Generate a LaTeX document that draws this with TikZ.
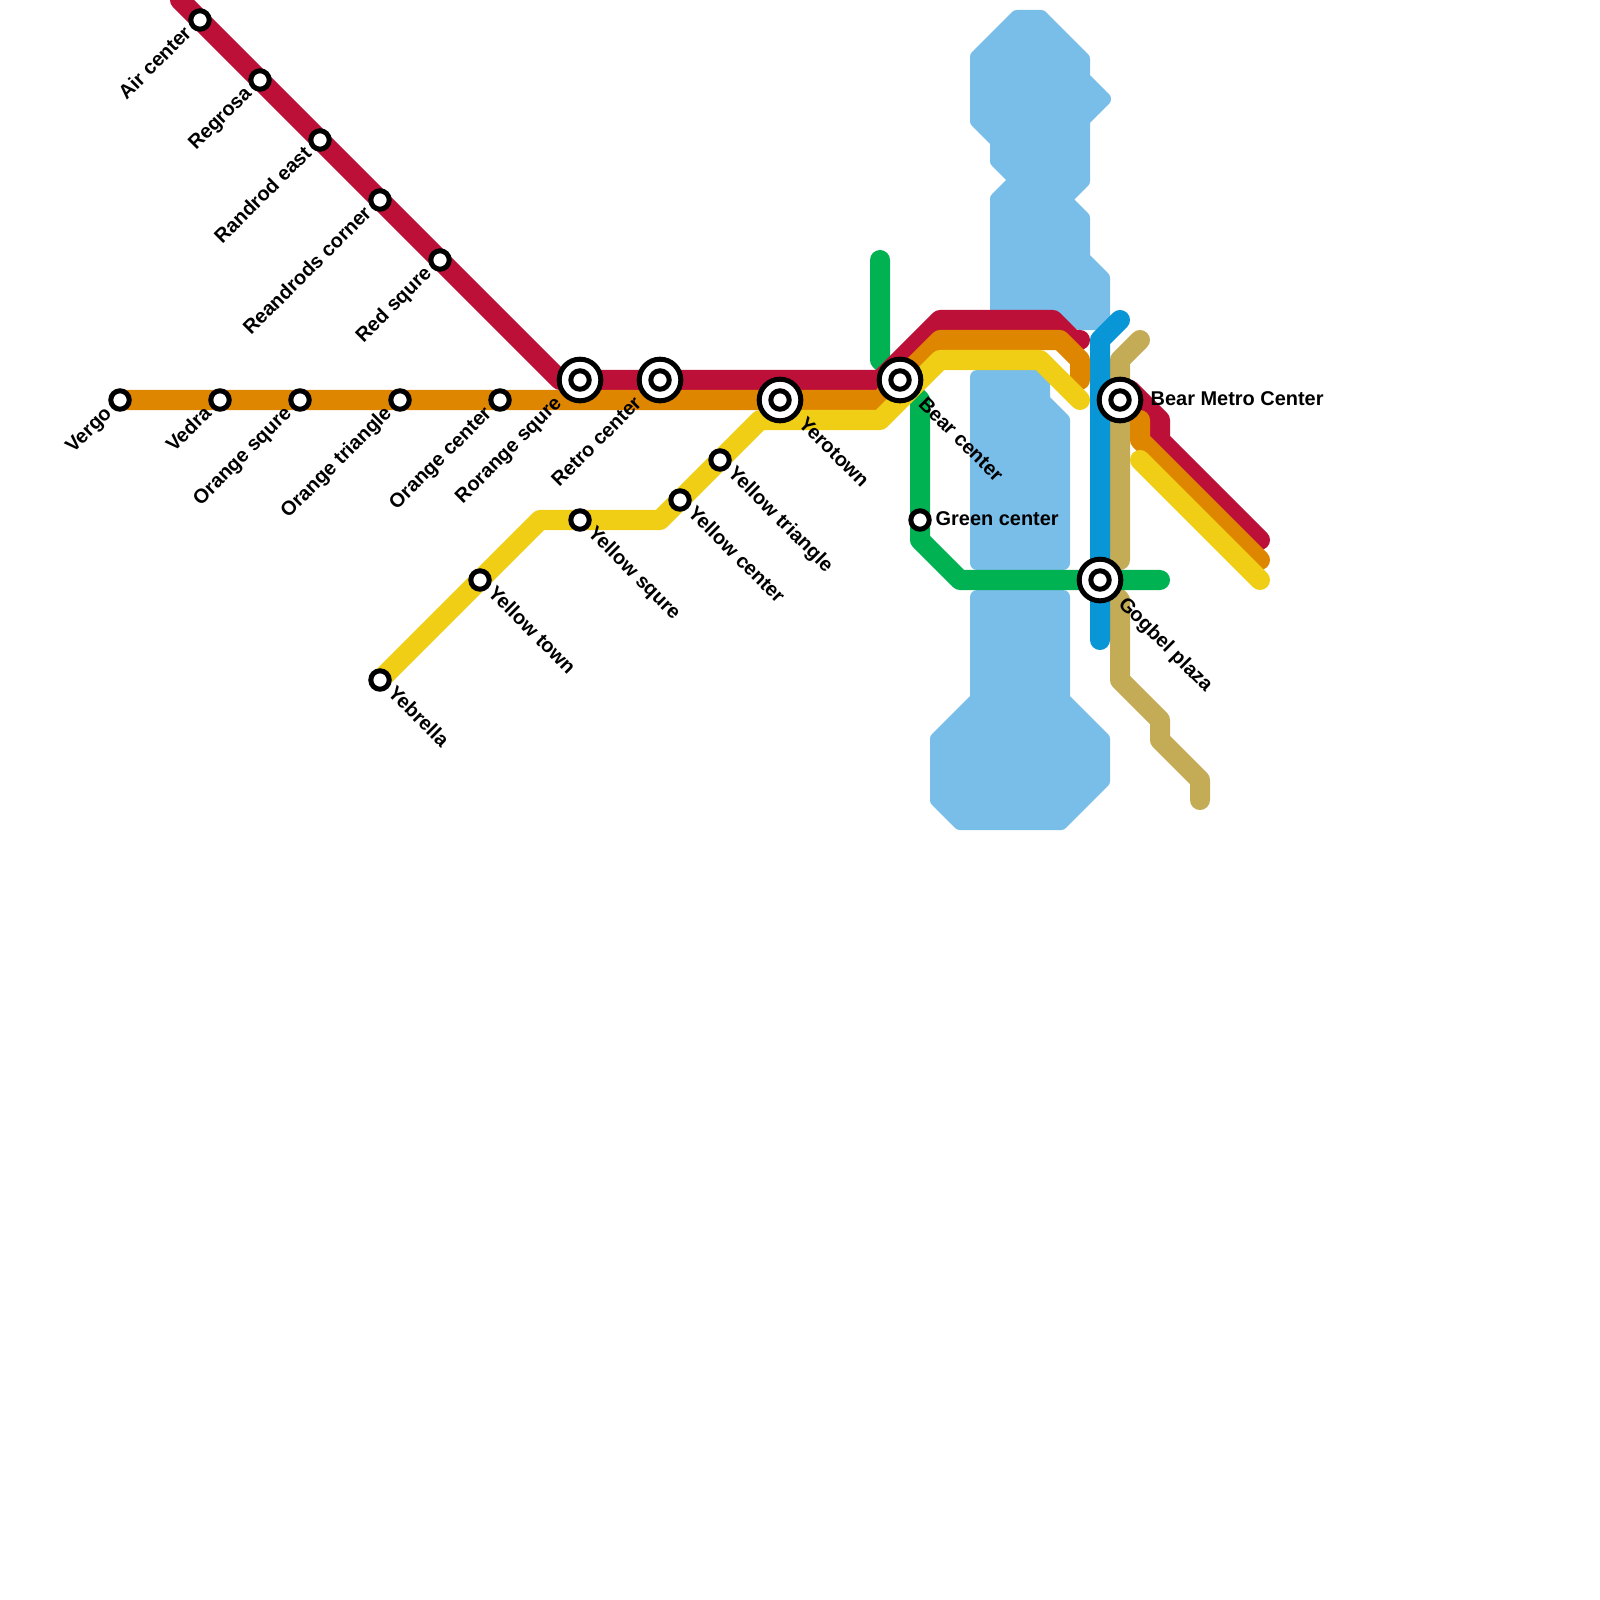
\documentclass[tikz,border=0pt]{standalone}
\usepackage{fontspec}
\setmainfont{Liberation Sans}
\usetikzlibrary{backgrounds}

\begin{document}
\begin{tikzpicture}[
    x={(0.01cm,0cm)}, y={(0cm,-0.01cm)},
    every node/.style={font=\bfseries\fontsize{5.67pt}{6.8pt}\selectfont, inner sep=0pt},
    metroline/.style={line width=0.2cm, line cap=round, line join=round},
    waterbody/.style={fill=water, draw=water, line width=0.14cm, line join=round},
    stop/.style={circle, draw=black, fill=white, line width=0.05cm, minimum size=0.184cm},
    hub/.style={circle, draw=black, fill=white, line width=0.05cm, minimum size=0.416cm},
    lblsw/.style={xshift=-0.07cm, yshift=-0.14cm, rotate=45, anchor=base east},
    lblse/.style={xshift=0.063cm, yshift=-0.137cm, rotate=-45, anchor=base west},
    hubsw/.style={xshift=-0.17cm, yshift=-0.24cm, rotate=45, anchor=base east},
    hubse/.style={xshift=0.17cm, yshift=-0.245cm, rotate=-45, anchor=base west},
  ]
    \definecolor{lineRed}{HTML}{bd1038}
    \definecolor{lineOrange}{HTML}{df8600}
    \definecolor{lineYellow}{HTML}{f0ce15}
    \definecolor{lineGreen}{HTML}{00b251}
    \definecolor{lineBlue}{HTML}{0896d7}
    \definecolor{lineTan}{HTML}{c4ab56}
    \definecolor{water}{HTML}{79bde9}

    \useasboundingbox (0,0) rectangle (1600,1600);

    % -------- plain stops --------
    \foreach \name/\xx/\yy in {air/200/20, regrosa/260/80, randrod/320/140, reandrods/380/200, redsq/440/260,
        vergo/120/400, vedra/220/400, orangesq/300/400, orangetri/400/400, orangecen/500/400,
        yebrella/380/680, yellowtown/480/580, yellowsq/580/520, yellowcen/680/500, yellowtri/720/460,
        greencen/920/520} {
      \node[stop] (\name) at (\xx,\yy) {};
    }

    % -------- interchanges --------
    \foreach \name/\xx/\yy in {rorange/580/380, retro/660/380, yerotown/780/400, bearcen/900/380,
        bearmetro/1120/400, gogbel/1100/580} {
      \node[hub] (\name) at (\xx,\yy) {};
      \node[stop] (\name-in) at (\name.center) {};
    }

    % -------- labels --------
    \foreach \name/\txt in {air/Air center, regrosa/Regrosa, randrod/Randrod east, reandrods/Reandrods corner,
        redsq/Red squre, vergo/Vergo, vedra/Vedra, orangesq/Orange squre, orangetri/Orange triangle,
        orangecen/Orange center} {
      \node[lblsw] (\name-txt) at (\name.center) {\txt};
    }
    \foreach \name/\txt in {rorange/Rorange squre, retro/Retro center} {
      \node[hubsw] (\name-txt) at (\name.center) {\txt};
    }
    \foreach \name/\txt in {yebrella/Yebrella, yellowtown/Yellow town, yellowsq/Yellow squre,
        yellowcen/Yellow center, yellowtri/Yellow triangle} {
      \node[lblse] (\name-txt) at (\name.center) {\txt};
    }
    \foreach \name/\txt in {yerotown/Yerotown, bearcen/Bear center, gogbel/Gogbel plaza} {
      \node[hubse] (\name-txt) at (\name.center) {\txt};
    }
    \node[anchor=base west, xshift=0.15cm, yshift=-0.05cm] (greencen-txt) at (greencen.center) {Green center};
    \node[anchor=base west, xshift=0.30cm, yshift=-0.05cm] (bearmetro-txt) at (bearmetro.center) {Bear Metro Center};

    \begin{pgfonlayer}{background}
      % -------- water --------
      \path[waterbody] (1017,17) -- (1041,17) -- (1083,59) -- (1083,78) -- (1104,99) -- (1083,120) -- (1083,181)
        -- (1064.5,199.5) -- (1083,218) -- (1083,258) -- (1103,278) -- (1103,323) -- (1080,323) -- (1074,317)
        -- (997,317) -- (997,199) -- (1016,180) -- (997,161) -- (997,141) -- (977,121) -- (977,57) -- cycle;
      \path[waterbody] (977,377) -- (1043,377) -- (1043,400) -- (1063,420) -- (1063,563) -- (977,563) -- cycle;
      \path[waterbody] (977,597) -- (1063,597) -- (1063,699) -- (1103,739) -- (1103,781) -- (1061,823) -- (960,823)
        -- (937,800) -- (937,739) -- (977,699) -- cycle;

      % -------- lines --------
      \draw[metroline, lineTan] (1140,340) -- (1120,360) -- (1120,560);
      \draw[metroline, lineTan] (gogbel.center) -- (1120,600) -- (1120,680) -- (1160,720) -- (1160,740) -- (1200,780) -- (1200,800);
      \draw[metroline, lineBlue] (1120,320) -- (1100,340) -- (gogbel.center) -- (1100,640);
      \draw[metroline, lineGreen] (880,260) -- (880,360) -- (bearcen.center) -- (920,400) -- (greencen.center) -- (920,540)
        -- (960,580) -- (gogbel.center) -- (1160,580);

      \draw[metroline, lineRed] (180,0) -- (air.center) -- (regrosa.center) -- (randrod.center) -- (reandrods.center)
        -- (redsq.center) -- (560,380) -- (rorange.center) -- (retro.center) -- (880,380) -- (940,320) -- (1053,320) -- (1073,340) -- (1080,340);
      \draw[metroline, lineRed] (1130,390) -- (1160,420) -- (1160,440) -- (1260,540);

      \draw[metroline, lineOrange] (vergo.center) -- (vedra.center) -- (orangesq.center) -- (orangetri.center)
        -- (orangecen.center) -- (yerotown.center) -- (880,400) -- (940,340) -- (1060,340) -- (1080,360) -- (1080,380);
      \draw[metroline, lineOrange] (1140,420) -- (1140,440) -- (1260,560);

      \draw[metroline, lineYellow] (yebrella.center) -- (yellowtown.center) -- (540,520) -- (yellowsq.center) -- (660,520)
        -- (yellowcen.center) -- (yellowtri.center) -- (760,420) -- (880,420) -- (940,360) -- (1040,360) -- (1080,400);
      \draw[metroline, lineYellow] (1140,460) -- (1260,580);
    \end{pgfonlayer}
  \end{tikzpicture}
\end{document}
